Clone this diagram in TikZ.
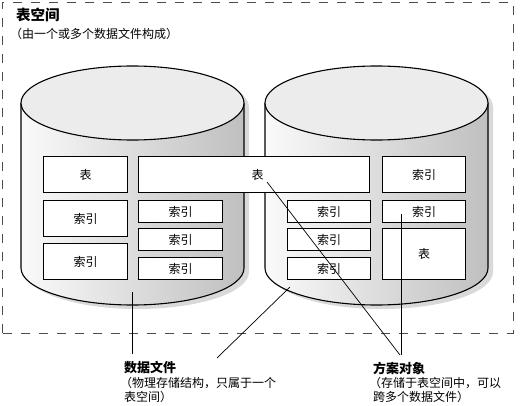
\documentclass[tikz,border=0pt]{standalone}
\usepackage{fontspec}
\setmainfont{Noto Sans CJK SC}
\usetikzlibrary{calc}
\begin{document}
\begin{tikzpicture}[x=1pt,y=1pt,
  box/.style={draw=black, line width=1.1pt, fill=white, inner sep=0pt, anchor=south west, font=\fontsize{12}{14}\selectfont},
  lbl/.style={anchor=west, inner sep=0pt, font=\fontsize{12}{14}\selectfont},
  lblb/.style={anchor=west, inner sep=0pt, font=\bfseries\fontsize{13}{15}\selectfont},
  conn/.style={draw=black, line width=0.7pt}]
\useasboundingbox (0,0) rectangle (522,405);
% tablespace dashed frame
\draw[gray!60!black, line width=0.9pt, dash pattern=on 9pt off 9pt] (2,72) rectangle (513,403);
\node[anchor=west, inner sep=0pt, font=\bfseries\fontsize{14.5}{16}\selectfont] (title) at (16,390) {表空间};
\node[lbl] (subtitle) at (10,371) {（由一个或多个数据文件构成）};
% cylinders
\foreach \cx in {132.5,376.5} {
  \begin{scope}[shift={(5,-4)}]
    \fill[black!15] (\cx-111.5,302) -- (\cx-111.5,137) arc[start angle=180,end angle=360,x radius=111.5,y radius=37] -- (\cx+111.5,302) arc[start angle=0,end angle=180,x radius=111.5,y radius=37] -- cycle;
  \end{scope}
  \shade[left color=gray!4, right color=gray!50] (\cx-111.5,302) -- (\cx-111.5,137) arc[start angle=180,end angle=360,x radius=111.5,y radius=37] -- (\cx+111.5,302) -- cycle;
  \draw[line width=1.1pt] (\cx-111.5,302) -- (\cx-111.5,137) arc[start angle=180,end angle=360,x radius=111.5,y radius=37] -- (\cx+111.5,302);
  \filldraw[fill=gray!15, line width=1.1pt] (\cx,302) ellipse[x radius=111.5, y radius=37];
}
% left datafile boxes
\node[box, minimum width=84pt, minimum height=36pt] (t1) at (43,212) {表};
\node[box, minimum width=84pt, minimum height=36pt] (i1) at (43,168) {索引};
\node[box, minimum width=84pt, minimum height=36pt] (i2) at (43,125) {索引};
\node[box, minimum width=84pt, minimum height=22pt] (i3) at (138,182) {索引};
\node[box, minimum width=84pt, minimum height=22pt] (i4) at (138,154) {索引};
\node[box, minimum width=84pt, minimum height=22pt] (i5) at (138,125) {索引};
% spanning table
\node[box, minimum width=231pt, minimum height=36pt, text width=231pt, align=center] (t2) at (138,212) {\hspace*{7pt}表};
% right datafile boxes
\node[box, minimum width=83pt, minimum height=22pt] (i6) at (287,182) {索引};
\node[box, minimum width=83pt, minimum height=22pt] (i7) at (287,154) {索引};
\node[box, minimum width=83pt, minimum height=22pt] (i8) at (287,125) {索引};
\node[box, minimum width=83pt, minimum height=36pt] (i9) at (382,212) {索引};
\node[box, minimum width=83pt, minimum height=22pt] (i10) at (382,182) {索引};
\node[box, minimum width=83pt, minimum height=51pt] (t3) at (382,125) {表};
% connector anchors
\coordinate (dfL) at (132,113);
\coordinate (dfR) at (290,118);
\coordinate (objT) at (267,223);
\coordinate (objI) at (401,191);
\coordinate (dfEndA) at (132,51);
\coordinate (dfEndB) at (217,47);
\coordinate (objEnd) at (400,50);
\draw[conn] (dfL) -- (dfEndA);
\draw[conn] (dfR) -- (dfEndB);
\draw[conn] (objT) -- (objEnd);
\draw[conn] (objI) -- (objI |- objEnd);
% labels
\node[lblb] (dflab) at (124,37) {数据文件};
\node[lbl] (dfl2) at (120,22) {（物理存储结构，只属于一个};
\node[lbl] (dfl3) at (124,8) {表空间）};
\node[lblb] (oblab) at (373,37) {方案对象};
\node[lbl] (obl2) at (369,22) {（存储于表空间中，可以};
\node[lbl] (obl3) at (373,8) {跨多个数据文件）};
\end{tikzpicture}
\end{document}
